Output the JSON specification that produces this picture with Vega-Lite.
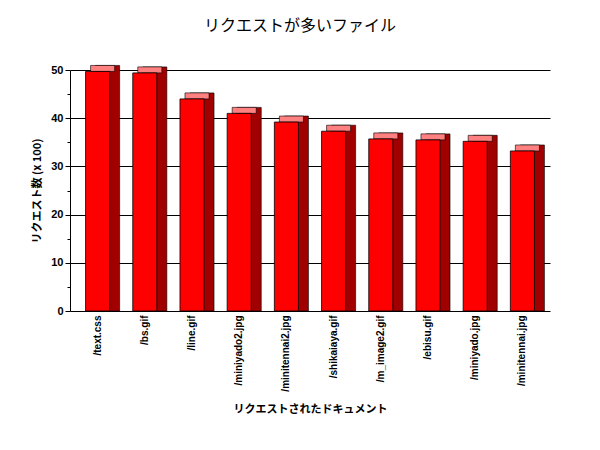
{
  "$schema": "https://vega.github.io/schema/vega-lite/v6.json",
  "autosize": "none",
  "width": 480,
  "height": 241,
  "padding": {"left": 70, "top": 70, "right": 50, "bottom": 139},
  "background": "white",
  "title": {
    "text": "リクエストが多いファイル",
    "font": "Noto Sans CJK JP",
    "fontSize": 16,
    "fontWeight": "normal",
    "color": "black",
    "anchor": "middle",
    "frame": "group",
    "dx": -10,
    "offset": 30
  },
  "config": {
    "view": {"stroke": null},
    "axis": {"domainColor": "black", "tickColor": "black", "labelColor": "black", "titleColor": "black"}
  },
  "data": {
    "values": [
      {"file": "/text.css", "count": 49.7},
      {"file": "/bs.gif", "count": 49.4},
      {"file": "/line.gif", "count": 44.0},
      {"file": "/miniyado2.jpg", "count": 41.0},
      {"file": "/minitennai2.jpg", "count": 39.2},
      {"file": "/shikaiaya.gif", "count": 37.3},
      {"file": "/m_image2.gif", "count": 35.7},
      {"file": "/ebisu.gif", "count": 35.5},
      {"file": "/miniyado.jpg", "count": 35.2},
      {"file": "/minitennai.jpg", "count": 33.2}
    ]
  },
  "encoding": {
    "x": {
      "field": "file",
      "type": "nominal",
      "sort": null,
      "scale": {"paddingInner": 0.49, "paddingOuter": 0.33},
      "axis": {
        "title": "リクエストされたドキュメント",
        "titleFont": "Noto Sans CJK JP",
        "titleFontSize": 11,
        "titleFontWeight": "bold",
        "titlePadding": 12,
        "labelAngle": -90,
        "labelFont": "Liberation Sans",
        "labelFontSize": 10,
        "labelFontWeight": "bold",
        "labelPadding": 4,
        "ticks": false,
        "domain": true
      }
    },
    "y": {
      "field": "count",
      "type": "quantitative",
      "scale": {"domain": [0, 50], "nice": false},
      "axis": {
        "title": "リクエスト数 (x 100)",
        "titleFont": "Noto Sans CJK JP",
        "titleFontSize": 11,
        "titleFontWeight": "bold",
        "titlePadding": 8,
        "values": [0, 5, 10, 15, 20, 25, 30, 35, 40, 45, 50],
        "labelExpr": "datum.value % 10 == 0 ? datum.label : ''",
        "labelFont": "Liberation Sans",
        "labelFontSize": 11,
        "labelFontWeight": "bold",
        "labelPadding": 2,
        "tickSize": {"condition": {"test": "datum.value % 10 == 0", "value": 5}, "value": 3},
        "grid": true,
        "gridColor": "black",
        "gridOpacity": {"condition": {"test": "datum.value % 10 == 0 && datum.value > 0", "value": 1}, "value": 0}
      }
    }
  },
  "layer": [
    {
      "mark": {"type": "bar", "color": "#A00000", "stroke": "black", "strokeWidth": 0.6, "xOffset": 10, "yOffset": -6},
      "encoding": {"y": {"field": "count", "type": "quantitative"}, "y2": {"datum": 0}}
    },
    {
      "mark": {"type": "bar", "color": "#FF8080", "stroke": "black", "strokeWidth": 0.6, "xOffset": 5, "yOffset": -6, "y2Offset": 0},
      "encoding": {"y": {"field": "count", "type": "quantitative"}, "y2": {"field": "count"}}
    },
    {
      "mark": {"type": "bar", "color": "#FF0000", "stroke": "black", "strokeWidth": 0.8},
      "encoding": {"y": {"field": "count", "type": "quantitative"}}
    }
  ]
}
